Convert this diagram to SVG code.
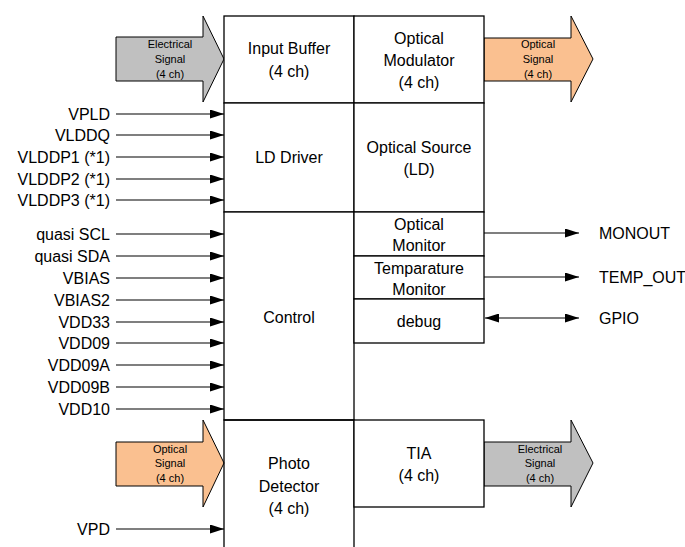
<svg xmlns="http://www.w3.org/2000/svg" width="685" height="547" viewBox="0 0 685 547">
<style>
  .box { fill: #ffffff; stroke: #000000; stroke-width: 1.3; }
  .edge { fill: none; stroke: #000000; stroke-width: 1.3; }
  .t { font-family: "Liberation Sans", Arial, sans-serif; font-size: 16px; fill: #000000; }
  .c { text-anchor: middle; }
  .r { text-anchor: end; }
  .s { font-family: "Liberation Sans", Arial, sans-serif; font-size: 11px; fill: #000000; text-anchor: middle; }
  .elec { fill: #c0c0c0; stroke: #000000; stroke-width: 1; }
  .opt { fill: #fac090; stroke: #000000; stroke-width: 1; }
  .wire { fill: none; stroke: #000000; stroke-width: 1.2; marker-end: url(#ah); }
  .wire2 { fill: none; stroke: #000000; stroke-width: 1.2; marker-end: url(#ah); marker-start: url(#ah); }
</style>
<defs>
  <marker id="ah" viewBox="0 0 14 9" refX="14" refY="4.5" markerWidth="14" markerHeight="9" markerUnits="userSpaceOnUse" orient="auto-start-reverse">
    <path d="M0,0 L14,4.5 L0,9 Z" fill="#000000"/>
  </marker>
</defs>

<g id="arrow-elec-in">
  <polygon class="elec" points="116,37 203,37 203,16 224,59 203,102 203,81 116,81"/>
  <text class="s" x="170" y="48">Electrical</text>
  <text class="s" x="170" y="63">Signal</text>
  <text class="s" x="170" y="78">(4 ch)</text>
</g>
<g id="arrow-opt-out">
  <polygon class="opt" points="484,38 571,38 571,16 593,59 571,102 571,81 484,81"/>
  <text class="s" x="538" y="48">Optical</text>
  <text class="s" x="538" y="63">Signal</text>
  <text class="s" x="538" y="78">(4 ch)</text>
</g>
<g id="arrow-opt-in">
  <polygon class="opt" points="116,442 203,442 203,420 224,463 203,507 203,486 116,486"/>
  <text class="s" x="170" y="453">Optical</text>
  <text class="s" x="170" y="467">Signal</text>
  <text class="s" x="170" y="482">(4 ch)</text>
</g>
<g id="arrow-elec-out">
  <polygon class="elec" points="484,442 571,442 571,420 593,463 571,507 571,486 484,486"/>
  <text class="s" x="540" y="453">Electrical</text>
  <text class="s" x="540" y="467">Signal</text>
  <text class="s" x="540" y="482">(4 ch)</text>
</g>

<g id="input-buffer">
  <rect class="box" x="224" y="16" width="130" height="87"/>
  <text class="t c" x="289" y="54">Input Buffer</text>
  <text class="t c" x="289" y="77">(4 ch)</text>
</g>
<g id="optical-modulator">
  <rect class="box" x="354" y="16" width="130" height="87"/>
  <text class="t c" x="419" y="44">Optical</text>
  <text class="t c" x="419" y="66">Modulator</text>
  <text class="t c" x="419" y="88">(4 ch)</text>
</g>
<g id="ld-driver">
  <rect class="box" x="224" y="103" width="130" height="109"/>
  <text class="t c" x="289" y="163">LD Driver</text>
</g>
<g id="optical-source">
  <rect class="box" x="354" y="103" width="130" height="109"/>
  <text class="t c" x="419" y="153">Optical Source</text>
  <text class="t c" x="419" y="175">(LD)</text>
</g>
<g id="control">
  <rect class="box" x="224" y="212" width="130" height="208"/>
  <text class="t c" x="289" y="323">Control</text>
</g>
<g id="optical-monitor">
  <rect class="box" x="354" y="212" width="130" height="44"/>
  <text class="t c" x="419" y="230">Optical</text>
  <text class="t c" x="419" y="251">Monitor</text>
</g>
<g id="temperature-monitor">
  <rect class="box" x="354" y="256" width="130" height="43"/>
  <text class="t c" x="419" y="274">Temparature</text>
  <text class="t c" x="419" y="295">Monitor</text>
</g>
<g id="debug">
  <rect class="box" x="354" y="299" width="130" height="44"/>
  <text class="t c" x="419" y="327">debug</text>
</g>
<g id="photo-detector">
  <path class="edge" d="M224,548 V420 H354 V548"/>
  <text class="t c" x="289" y="469">Photo</text>
  <text class="t c" x="289" y="492">Detector</text>
  <text class="t c" x="289" y="514">(4 ch)</text>
</g>
<g id="tia">
  <rect class="box" x="354" y="420" width="130" height="87"/>
  <text class="t c" x="419" y="459">TIA</text>
  <text class="t c" x="419" y="481">(4 ch)</text>
</g>

<g id="signal-labels">
  <text class="t r" x="110" y="120">VPLD</text>
  <text class="t r" x="110" y="141">VLDDQ</text>
  <text class="t r" x="110" y="163">VLDDP1 (*1)</text>
  <text class="t r" x="110" y="185">VLDDP2 (*1)</text>
  <text class="t r" x="110" y="206">VLDDP3 (*1)</text>
  <text class="t r" x="110" y="240">quasi SCL</text>
  <text class="t r" x="110" y="262">quasi SDA</text>
  <text class="t r" x="110" y="284">VBIAS</text>
  <text class="t r" x="110" y="306">VBIAS2</text>
  <text class="t r" x="110" y="328">VDD33</text>
  <text class="t r" x="110" y="349">VDD09</text>
  <text class="t r" x="110" y="371">VDD09A</text>
  <text class="t r" x="110" y="393">VDD09B</text>
  <text class="t r" x="110" y="415">VDD10</text>
  <text class="t r" x="110" y="535">VPD</text>
  <text class="t" x="599" y="239">MONOUT</text>
  <text class="t" x="599" y="283">TEMP_OUT</text>
  <text class="t" x="599" y="324">GPIO</text>
</g>

<g id="connectors">
  <line class="wire" x1="116" y1="114" x2="224" y2="114"/>
  <line class="wire" x1="116" y1="135" x2="224" y2="135"/>
  <line class="wire" x1="116" y1="157" x2="224" y2="157"/>
  <line class="wire" x1="116" y1="179" x2="224" y2="179"/>
  <line class="wire" x1="116" y1="200" x2="224" y2="200"/>
  <line class="wire" x1="116" y1="234" x2="224" y2="234"/>
  <line class="wire" x1="116" y1="256" x2="224" y2="256"/>
  <line class="wire" x1="116" y1="278" x2="224" y2="278"/>
  <line class="wire" x1="116" y1="300" x2="224" y2="300"/>
  <line class="wire" x1="116" y1="322" x2="224" y2="322"/>
  <line class="wire" x1="116" y1="343" x2="224" y2="343"/>
  <line class="wire" x1="116" y1="365" x2="224" y2="365"/>
  <line class="wire" x1="116" y1="387" x2="224" y2="387"/>
  <line class="wire" x1="116" y1="409" x2="224" y2="409"/>
  <line class="wire" x1="116" y1="529" x2="224" y2="529"/>
  <line class="wire" x1="484" y1="233" x2="579" y2="233"/>
  <line class="wire" x1="484" y1="277" x2="579" y2="277"/>
  <line class="wire2" x1="485" y1="318" x2="579" y2="318"/>
</g>
</svg>
